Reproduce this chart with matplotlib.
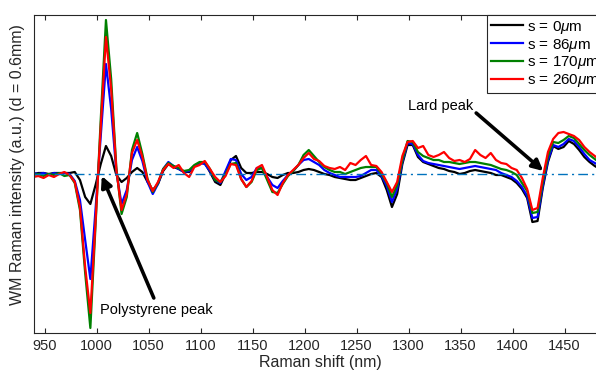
import numpy as np
import matplotlib
matplotlib.use('Agg')
import matplotlib.pyplot as plt

plt.rcParams['font.family'] = ['Liberation Sans', 'DejaVu Sans']
plt.rcParams['mathtext.fontset'] = 'custom'
plt.rcParams['mathtext.rm'] = 'Liberation Sans'
plt.rcParams['mathtext.it'] = 'Liberation Sans:italic'

# Raman shift sampling (nm), one sample every 5
shift = np.arange(939, 1490, 5)

# WM Raman intensity (a.u.)
s0 = [0, 1, 1, 0, 1, 1, 1, 1, 2, -6, -23, -30, -11, 10, 28, 18, -1, -8, -4, 2,
      6, 2, -8, -16, -10, 3, 10, 7, 5, 2, 2, 8, 11, 11, 2, -8, -11, 0, 14, 18,
      6, 1, 1, 2, 2, 0, -3, -4, -1, 1, 1, 2, 4, 5, 4, 2, 0, -1, -3, -4,
      -5, -6, -6, -4, -2, 0, 1, -3, -16, -33, -20, 10, 29, 29, 17, 12, 10, 8, 6, 5,
      3, 2, 0, 1, 3, 4, 3, 2, 1, -1, -1, -3, -5, -9, -15, -24, -48, -47, -14, 12,
      28, 25, 27, 33, 30, 24, 17, 12, 8, 5, 3]
s86 = [1, 0, 1, -1, 1, 0, 1, 0, -7, -26, -66, -105, -35, 38, 110, 65, 2, -30, -16, 14,
       27, 13, -8, -20, -10, 5, 12, 8, 5, 2, 3, 8, 11, 10, 3, -6, -9, 3, 15, 14,
       0, -6, -3, 6, 6, -3, -11, -14, -7, -1, 3, 9, 14, 15, 12, 9, 4, 1, -1, -3,
       -3, -3, -3, -2, 1, 4, 4, -2, -12, -28, -15, 12, 31, 30, 19, 13, 11, 10, 9, 8,
       7, 6, 5, 6, 7, 8, 7, 6, 5, 4, 1, -1, -3, -7, -13, -22, -44, -43, -12, 14,
       29, 27, 30, 35, 33, 27, 20, 14, 11, 8, 6]
s170 = [-1, 0, -2, 0, -1, 1, -2, -1, -9, -36, -99, -154, -51, 55, 154, 95, 6, -40, -23, 24,
        41, 20, -5, -18, -9, 5, 11, 8, 6, 3, 4, 9, 12, 12, 5, -6, -8, 0, 10, 11,
        -5, -13, -8, 4, 6, -6, -18, -19, -10, -2, 3, 9, 19, 24, 18, 12, 7, 4, 2, 2,
        0, 2, 4, 6, 7, 7, 7, 0, -9, -23, -11, 14, 33, 32, 22, 18, 16, 14, 14, 12,
        12, 11, 10, 11, 12, 12, 11, 10, 9, 7, 5, 4, 2, -1, -9, -17, -39, -38, -8, 18,
        32, 31, 34, 38, 36, 30, 24, 19, 15, 11, 9]
s260 = [-3, -2, -4, -1, -3, 0, 2, -1, -8, -33, -93, -139, -47, 48, 137, 85, 4, -36, -20, 21,
        34, 17, -6, -17, -8, 4, 10, 6, 9, 1, -3, 7, 9, 13, 5, -3, -8, -2, 10, 9,
        -5, -13, -7, 6, 9, -3, -16, -21, -9, -1, 4, 9, 16, 21, 15, 13, 8, 6, 5, 7,
        4, 11, 9, 14, 18, 9, 8, 2, -8, -18, -8, 18, 32, 33, 26, 28, 19, 17, 19, 22,
        16, 13, 14, 12, 15, 24, 19, 16, 21, 14, 11, 10, 6, 4, -4, -15, -36, -34, -4, 22,
        35, 41, 42, 40, 38, 34, 27, 22, 18, 14, 12]

labels = [r's = 0$\mu$m', r's = 86$\mu$m', r's = 170$\mu$m', r's = 260$\mu$m']
colors = ['black', '#0000FF', '#008000', '#FF0000']

# annotation anchors (data units): text centre, arrow tail, arrow tip
poly_text, poly_tail, poly_tip = (1057, -136), (1055, -124), (1005, -2)
lard_text, lard_tail, lard_tip = (1331, 68), (1365, 61), (1429.5, 3)

fig = plt.figure(figsize=(5.96, 3.73), dpi=100)
ax = fig.add_axes([34.2 / 596, 1 - 332.5 / 373, 572 / 596, 317.5 / 373])

for ys, lab, c in zip([s0, s86, s170, s260], labels, colors):
    ax.plot(shift, ys, color=c, linewidth=1.6, label=lab)
ax.axhline(0, color='#0072BD', linewidth=1.0, linestyle=(0, (7, 3, 1.5, 3)))

ax.set_xlim(940, 1490)
ax.set_ylim(-158.5, 159)
ax.set_xticks(np.arange(950, 1451, 50))
ax.set_yticks([])
ax.tick_params(axis='x', direction='in', top=True, length=3.5, width=0.8,
               pad=5, labelsize=10.5, colors='#262626')
for sp in ax.spines.values():
    sp.set_color('#262626')
    sp.set_linewidth(0.8)

ax.set_xlabel('Raman shift (nm)', fontsize=11.5, color='#262626', labelpad=1)
ax.set_ylabel('WM Raman intensity (a.u.) (d = 0.6mm)', fontsize=11.5, color='#262626')
ax.yaxis.set_label_coords(-0.016, 0.53)

arrow = dict(arrowstyle='-|>', lw=2.6, color='black', mutation_scale=16,
             shrinkA=0, shrinkB=0)
ax.annotate('', xy=poly_tip, xytext=poly_tail, arrowprops=arrow)
ax.text(*poly_text, 'Polystyrene peak', fontsize=10.5, ha='center', va='center')
ax.annotate('', xy=lard_tip, xytext=lard_tail, arrowprops=arrow)
ax.text(*lard_text, 'Lard peak', fontsize=10.5, ha='center', va='center')

leg = fig.legend(loc='upper left', bbox_to_anchor=(487 / 596, 1 - 15 / 373),
                 borderaxespad=0, fontsize=11, handlelength=2.1, handletextpad=0.3,
                 labelspacing=0.05, borderpad=0.25, fancybox=False, framealpha=1)
leg.get_frame().set_edgecolor('#262626')
leg.get_frame().set_linewidth(0.8)
for h in leg.get_lines():
    h.set_linewidth(1.6)

fig.savefig('out.png', dpi=100)
